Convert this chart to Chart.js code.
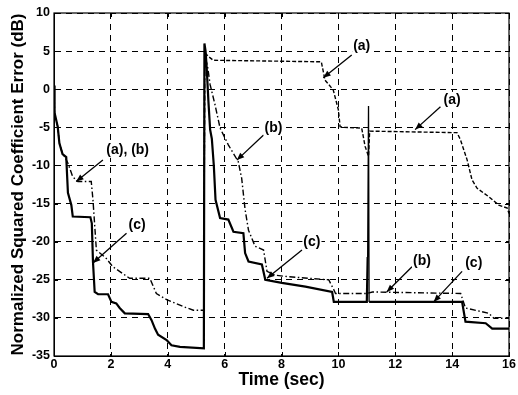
<!DOCTYPE html>
<html>
<head>
<meta charset="utf-8">
<script src="https://cdn.jsdelivr.net/npm/chart.js@4.4.1/dist/chart.umd.min.js"></script>
<style>
  html, body { margin: 0; padding: 0; background: #fff; }
  #wrap { width: 518px; height: 395px; position: relative; }
</style>
</head>
<body>
<div id="wrap"><canvas id="errChart"></canvas></div>
<script>
"use strict";

// values: time in sec, error in dB
const timeC = [0, 0.02, 0.13, 0.19, 0.3, 0.43, 0.49, 0.61, 0.66, 1.28,
  1.33, 1.37, 1.43, 1.55, 1.9, 2.02, 2.19, 2.31, 2.49, 3.31,
  3.43, 3.55, 3.66, 3.96, 4.13, 4.43, 5.27, 5.29, 5.33, 5.37,
  5.43, 5.49, 5.55, 5.62, 5.68, 5.84, 6.13, 6.31, 6.66, 6.72,
  6.84, 7.31, 7.43, 8.01, 8.84, 9.78, 9.84, 11.0, 11.03, 11.06,
  11.08, 14.35, 14.47, 15.18, 15.41, 16];
const errC = [0.5, -3.1, -4.9, -7.1, -8.5, -8.9, -13.6, -15.2, -16.7, -16.8,
  -17.6, -22.6, -26.6, -26.9, -26.9, -27.9, -28.1, -28.7, -29.4, -29.5,
  -30.3, -31.4, -32.2, -32.9, -33.6, -33.8, -34.0, 6.0, 5.0, 2.8,
  -1.6, -5.3, -6.5, -10.0, -14.5, -16.9, -17.1, -18.7, -18.9, -21.5,
  -22.6, -23.0, -25.0, -25.4, -25.9, -26.6, -27.9, -27.9, -22.0, -2.2,
  -27.9, -27.9, -30.5, -30.7, -31.4, -31.4];

const timeB = [0, 0.02, 0.13, 0.19, 0.3, 0.37, 0.49, 0.66, 0.84, 1.31,
  1.37, 1.49, 1.84, 2.07, 2.66, 3.37, 3.6, 3.96, 4.54, 4.9,
  5.27, 5.3, 5.4, 5.49, 5.66, 5.84, 6.13, 6.48, 6.6, 6.72,
  6.84, 7.07, 7.37, 7.49, 7.78, 8.25, 9.66, 9.84, 9.9, 11.0,
  11.2, 14.3, 14.47, 15.29, 15.47, 16];
const errB = [0.5, -3.1, -4.9, -7.1, -8.5, -8.8, -9.7, -11.5, -12.1, -12.1,
  -14.5, -21.1, -22.2, -23.3, -24.8, -24.8, -26.8, -27.6, -28.5, -29.0,
  -29.0, 4.5, 3.0, 0.6, -2.0, -5.1, -7.3, -9.5, -11.7, -15.8,
  -18.5, -20.6, -21.1, -23.9, -24.4, -24.6, -25.0, -26.3, -26.8, -26.8,
  -26.6, -26.8, -28.7, -29.4, -30.05, -30.05];

// before the reset at ~5.3 s, (a) runs on top of (b)
const timeA = [0, 0.02, 0.13, 0.19, 0.3, 0.37, 0.49, 0.66, 0.84, 1.31,
  1.37, 1.49, 1.84, 2.07, 2.66, 3.37, 3.6, 3.96, 4.54, 4.9,
  5.27, 5.3, 5.43, 5.6, 9.4, 9.53, 9.82, 10.0, 10.06, 10.2,
  10.82, 10.94, 11.06, 11.1, 14.17, 14.29, 14.53, 14.7, 14.88, 15.29,
  15.64, 15.94, 16];
const errA = [0.5, -3.1, -4.9, -7.1, -8.5, -8.8, -9.7, -11.5, -12.1, -12.1,
  -14.5, -21.1, -22.2, -23.3, -24.8, -24.8, -26.8, -27.6, -28.5, -29.0,
  -29.0, 4.8, 4.3, 3.8, 3.6, 1.2, -0.1, -2.7, -4.9, -5.0,
  -5.1, -7.5, -8.8, -5.5, -5.7, -6.6, -9.3, -11.9, -13.0, -14.1,
  -15.2, -15.6, -16.3];
const resetTime = 5.28;
const spikeTimes = [11.03, 11.08];

const xTicks = [0, 2, 4, 6, 8, 10, 12, 14, 16];
const yTicks = [10, 5, 0, -5, -10, -15, -20, -25, -30, -35];

// labels with arrows, in data units: text at (tx, ty), arrow from -> to
const notes = [
  { text: "(a), (b)", tx: 2.59, ty: -7.95, from: [1.72, -9.3], to: [0.78, -12.1] },
  { text: "(c)", tx: 2.92, ty: -17.8, from: [2.55, -18.9], to: [1.37, -22.8] },
  { text: "(a)", tx: 10.82, ty: 5.6, from: [10.47, 4.5], to: [9.47, 1.5] },
  { text: "(b)", tx: 7.72, ty: -5.1, from: [7.37, -6.0], to: [6.43, -9.3] },
  { text: "(a)", tx: 14.0, ty: -1.4, from: [13.59, -2.3], to: [12.7, -5.3] },
  { text: "(c)", tx: 9.07, ty: -20.0, from: [8.72, -21.1], to: [7.49, -24.8] },
  { text: "(b)", tx: 12.94, ty: -22.6, from: [12.59, -23.3], to: [11.7, -26.6] },
  { text: "(c)", tx: 14.76, ty: -22.8, from: [14.35, -23.9], to: [13.35, -27.9] },
];

const FONT = "'Liberation Sans', Arial, Helvetica, sans-serif";

function toPoints(xs, ys) {
  return xs.map((t, i) => ({ x: t, y: ys[i] }));
}

const frameAndNotes = {
  id: "frameAndNotes",
  afterDatasetsDraw(chart) {
    const { ctx, chartArea: area, scales } = chart;
    const xs = scales.x;
    const ys = scales.y;
    ctx.save();
    ctx.setLineDash([]);
    ctx.strokeStyle = "#000";
    ctx.fillStyle = "#000";

    // box around the axes, matlab style inward ticks
    ctx.lineWidth = 1.2;
    ctx.strokeRect(area.left, area.top, area.right - area.left, area.bottom - area.top);
    ctx.lineWidth = 1;
    ctx.beginPath();
    xTicks.forEach((v) => {
      const px = Math.round(xs.getPixelForValue(v)) + 0.5;
      ctx.moveTo(px, area.bottom);
      ctx.lineTo(px, area.bottom - 4);
      ctx.moveTo(px, area.top);
      ctx.lineTo(px, area.top + 4);
    });
    yTicks.forEach((v) => {
      const py = Math.round(ys.getPixelForValue(v)) + 0.5;
      ctx.moveTo(area.left, py);
      ctx.lineTo(area.left + 4, py);
      ctx.moveTo(area.right, py);
      ctx.lineTo(area.right - 4, py);
    });
    ctx.stroke();

    // annotations
    ctx.font = "bold 14px " + FONT;
    ctx.textAlign = "center";
    ctx.textBaseline = "middle";
    notes.forEach((n) => {
      const x1 = xs.getPixelForValue(n.from[0]);
      const y1 = ys.getPixelForValue(n.from[1]);
      const x2 = xs.getPixelForValue(n.to[0]);
      const y2 = ys.getPixelForValue(n.to[1]);
      ctx.lineWidth = 1.3;
      ctx.beginPath();
      ctx.moveTo(x1, y1);
      ctx.lineTo(x2, y2);
      ctx.stroke();
      const ang = Math.atan2(y2 - y1, x2 - x1);
      ctx.beginPath();
      ctx.moveTo(x2, y2);
      ctx.lineTo(x2 - 8 * Math.cos(ang - 0.38), y2 - 8 * Math.sin(ang - 0.38));
      ctx.lineTo(x2 - 8 * Math.cos(ang + 0.38), y2 - 8 * Math.sin(ang + 0.38));
      ctx.closePath();
      ctx.fill();

      const tx = xs.getPixelForValue(n.tx);
      const ty = ys.getPixelForValue(n.ty);
      const w = ctx.measureText(n.text).width;
      ctx.fillStyle = "#fff";
      ctx.fillRect(tx - w / 2 - 1, ty - 8, w + 2, 16);
      ctx.fillStyle = "#000";
      ctx.fillText(n.text, tx, ty);
    });
    ctx.restore();
  },
};

const chart = new Chart(document.getElementById("errChart"), {
  type: "line",
  data: {
    datasets: [
      {
        label: "(c)",
        data: toPoints(timeC, errC),
        borderColor: "#000",
        borderWidth: 2.2,
        pointRadius: 0,
        tension: 0,
        segment: {
          // the short spike near 11 s is drawn thin
          borderWidth: (ctx) =>
            ctx.p0.parsed.x >= spikeTimes[0] && ctx.p1.parsed.x <= spikeTimes[1] ? 1.3 : undefined,
        },
      },
      {
        label: "(b)",
        data: toPoints(timeB, errB),
        borderColor: "#000",
        borderWidth: 1.4,
        borderDash: [6, 2.5, 1.5, 2.5],
        pointRadius: 0,
        tension: 0,
      },
      {
        label: "(a)",
        data: toPoints(timeA, errA),
        borderColor: "#000",
        borderWidth: 1.4,
        borderDash: [4, 2],
        pointRadius: 0,
        tension: 0,
        segment: {
          borderColor: (ctx) => (ctx.p1.parsed.x < resetTime ? "rgba(0,0,0,0)" : undefined),
        },
      },
    ],
  },
  options: {
    responsive: true,
    maintainAspectRatio: false,
    animation: false,
    layout: { padding: { top: 13, right: 9, left: 0, bottom: 0 } },
    plugins: {
      legend: { display: false },
      tooltip: { enabled: false },
    },
    scales: {
      x: {
        type: "linear",
        min: 0,
        max: 16,
        afterFit: (scale) => { scale.height = 39; },
        afterBuildTicks: (scale) => { scale.ticks = xTicks.map((v) => ({ value: v })); },
        grid: { color: "#000", lineWidth: 1, drawTicks: false },
        border: { display: true, color: "#000", width: 1, dash: [6, 5] },
        ticks: {
          color: "#000",
          padding: 1,
          font: { family: FONT, size: 12.5, weight: "bold" },
        },
        title: {
          display: true,
          text: "Time (sec)",
          color: "#000",
          padding: { top: 0, bottom: 4 },
          font: { family: FONT, size: 17.5, weight: "bold" },
        },
      },
      y: {
        min: -35,
        max: 10,
        afterFit: (scale) => { scale.width = 54; },
        afterBuildTicks: (scale) => { scale.ticks = yTicks.map((v) => ({ value: v })); },
        grid: { color: "#000", lineWidth: 1, drawTicks: false },
        border: { display: true, color: "#000", width: 1, dash: [6, 5] },
        ticks: {
          color: "#000",
          padding: 4,
          font: { family: FONT, size: 12.5, weight: "bold" },
        },
        title: {
          display: true,
          text: "Normalized Squared Coefficient Error (dB)",
          color: "#000",
          padding: { top: 8, bottom: 0 },
          font: { family: FONT, size: 17, weight: "bold" },
        },
      },
    },
  },
  plugins: [frameAndNotes],
});
</script>
</body>
</html>
